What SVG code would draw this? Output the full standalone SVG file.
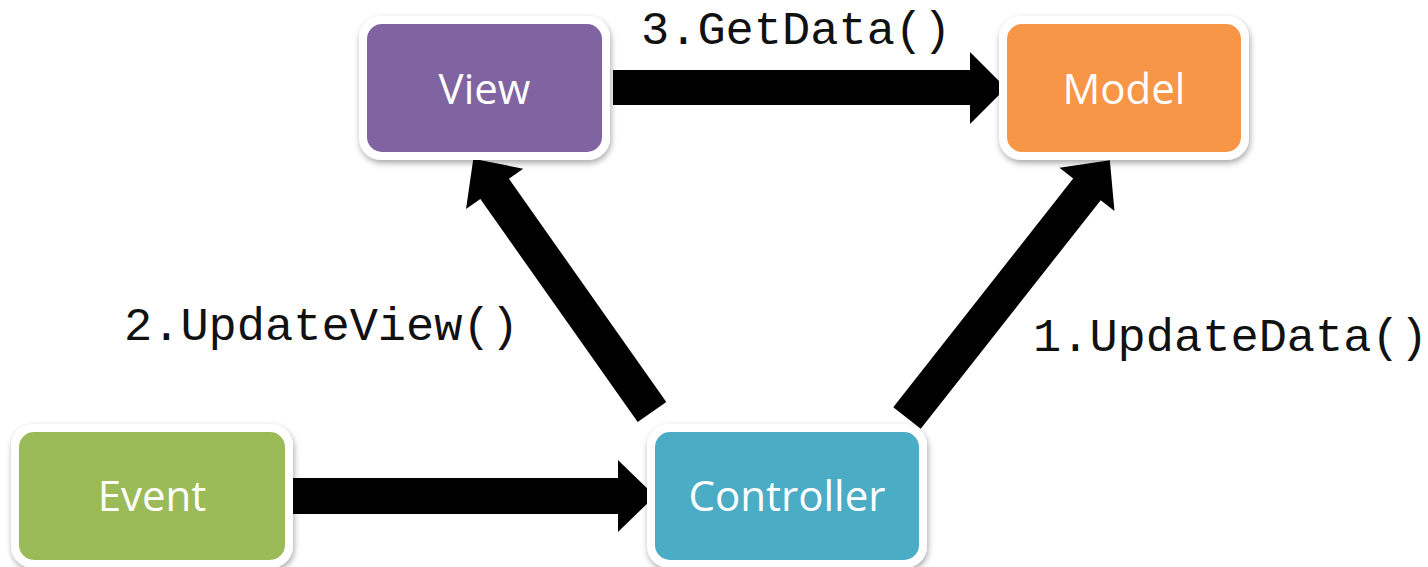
<svg xmlns="http://www.w3.org/2000/svg" width="1428" height="567" viewBox="0 0 1428 567">
  <defs>
    <filter id="shadow" x="-10%" y="-10%" width="120%" height="130%">
      <feGaussianBlur in="SourceAlpha" stdDeviation="3"/>
      <feOffset dx="1" dy="3" result="b"/>
      <feComponentTransfer><feFuncA type="linear" slope="0.35"/></feComponentTransfer>
      <feMerge><feMergeNode/><feMergeNode in="SourceGraphic"/></feMerge>
    </filter>
  </defs>
  <style>
    .frame { fill: #ffffff; filter: url(#shadow); }
    .label { font-family: "Open Sans", "Noto Sans", sans-serif; font-size: 42px; fill: #ffffff; text-anchor: middle; }
    .call { font-family: "Liberation Mono", "DejaVu Sans Mono", monospace; font-size: 47px; fill: #111111; }
    .arrow { fill: #000000; }
  </style>
  <rect width="1428" height="567" fill="#ffffff"/>

  <!-- block arrows between the nodes -->
  <g id="connectors">
    <!-- View -> Model -->
    <polygon class="arrow" points="613,70 970,70 970,52 1006,88 970,124 970,105 613,105"/>
    <!-- Event -> Controller -->
    <polygon class="arrow" points="289,478 618,478 618,460 655,496 618,532 618,514 289,514"/>
    <!-- Controller -> View -->
    <g transform="translate(652,412) rotate(-125.2)">
      <polygon class="arrow" points="0,-17.5 273,-17.5 273,-35 310,0 273,35 273,17.5 0,17.5"/>
    </g>
    <!-- Controller -> Model -->
    <g transform="translate(907,418) rotate(-51.8)">
      <polygon class="arrow" points="0,-17.5 291,-17.5 291,-35 328,0 291,35 291,17.5 0,17.5"/>
    </g>
  </g>

  <text class="call" x="641" y="44">3.GetData()</text>
  <text class="call" x="124" y="340">2.UpdateView()</text>
  <text class="call" x="1033" y="351">1.UpdateData()</text>

  <g id="view">
    <rect class="frame" x="359" y="16" width="251" height="144" rx="22"/>
    <rect x="367" y="24" width="235" height="128" rx="15" fill="#8064A2"/>
    <text class="label" x="484.5" y="104">View</text>
  </g>
  <g id="model">
    <rect class="frame" x="999" y="16" width="250" height="144" rx="22"/>
    <rect x="1007" y="24" width="234" height="128" rx="15" fill="#F79646"/>
    <text class="label" x="1124" y="104">Model</text>
  </g>
  <g id="event">
    <rect class="frame" x="11" y="424" width="282" height="144" rx="22"/>
    <rect x="19" y="432" width="266" height="128" rx="15" fill="#9BBB59"/>
    <text class="label" x="152" y="511">Event</text>
  </g>
  <g id="controller">
    <rect class="frame" x="647" y="424" width="280" height="144" rx="22"/>
    <rect x="655" y="432" width="264" height="128" rx="15" fill="#4BACC6"/>
    <text class="label" x="787" y="511">Controller</text>
  </g>
</svg>
